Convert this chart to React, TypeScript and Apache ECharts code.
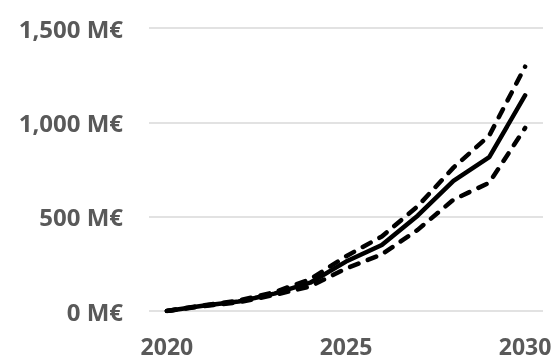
import React, { useEffect, useRef } from "react";
import * as echarts from "echarts";

const years = ["2020", "2021", "2022", "2023", "2024", "2025", "2026", "2027", "2028", "2029", "2030"];
const central = [0, 28, 50, 92, 150, 262, 350, 505, 690, 815, 1143];
const upper = [0, 30, 55, 100, 168, 290, 395, 555, 760, 930, 1295];
const lower = [0, 26, 46, 85, 130, 225, 300, 430, 590, 680, 970];
const yTicks = { min: 0, max: 1500, interval: 500 };

export default function App() {
  const ref = useRef<HTMLDivElement>(null);
  useEffect(() => {
    if (!ref.current) return;
    const chart = echarts.init(ref.current, undefined, { renderer: "svg" });
    const font = { fontFamily: "Open Sans", fontWeight: "bold" as const, fontSize: 24, color: "#595959", lineHeight: 22 };
    const dashed = { color: "#000", width: 4.5, type: [9, 10] as any, cap: "round" as const };
    chart.setOption({
      animation: false,
      grid: { left: 149, right: 16, top: 28, bottom: 49, containLabel: false },
      xAxis: {
        type: "category",
        data: years,
        boundaryGap: true,
        axisLine: { show: false },
        axisTick: { show: false },
        axisLabel: { ...font, fontSize: 23, lineHeight: 20, interval: 4, margin: 25 },
      },
      yAxis: {
        type: "value",
        ...yTicks,
        axisLine: { show: false },
        axisTick: { show: false },
        splitLine: { lineStyle: { color: "#d9d9d9", width: 1.5 } },
        axisLabel: {
          ...font,
          margin: 26,
          formatter: (v: number) => v.toLocaleString("en-US") + " M€",
        },
      },
      series: [
        { type: "line", data: upper, symbol: "none", lineStyle: dashed },
        { type: "line", data: lower, symbol: "none", lineStyle: dashed },
        { type: "line", data: central, symbol: "none", lineStyle: { color: "#000", width: 4.5, cap: "round" } },
      ],
    });
    return () => chart.dispose();
  }, []);
  return <div ref={ref} style={{ position: "fixed", left: 0, top: 0, width: 559, height: 360 }} />;
}
